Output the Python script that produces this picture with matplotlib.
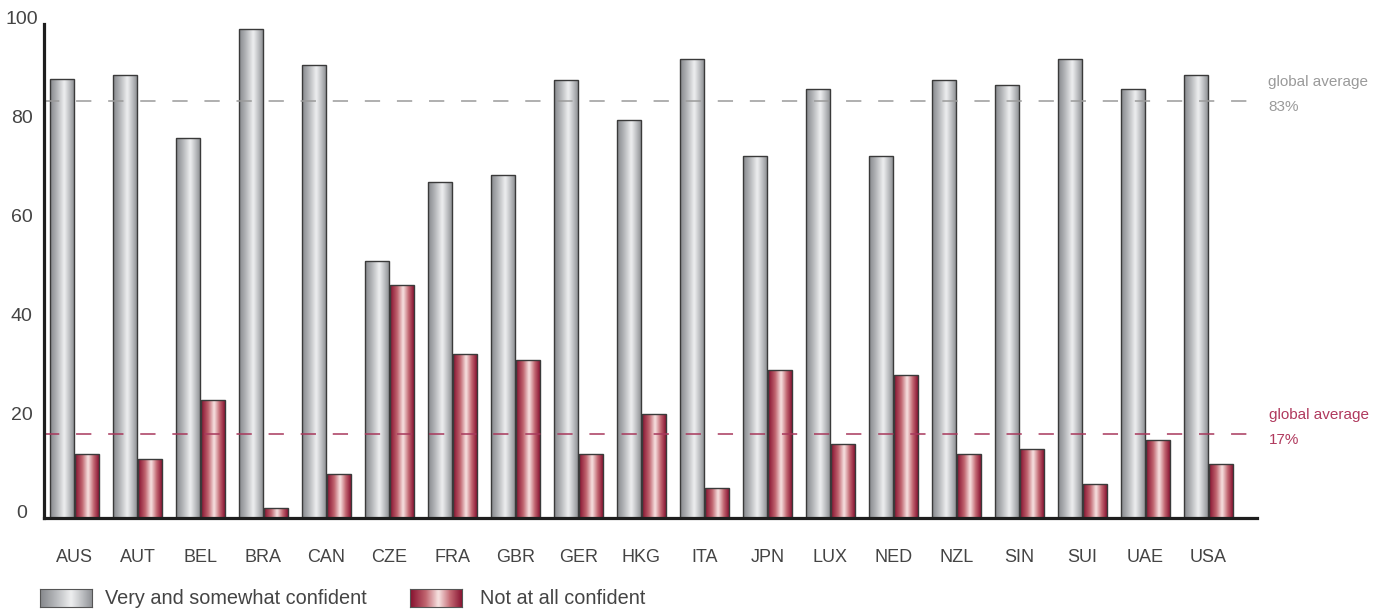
"""
Confidence by market: grouped bars with metallic gradient fill, plus global-average guides.
"""

import matplotlib
matplotlib.use("Agg")
import matplotlib.pyplot as plt
import numpy as np
from matplotlib.colors import LinearSegmentedColormap
from matplotlib.patches import Rectangle
from matplotlib.transforms import ScaledTranslation

countries = ["AUS", "AUT", "BEL", "BRA", "CAN", "CZE", "FRA", "GBR", "GER", "HKG",
             "ITA", "JPN", "LUX", "NED", "NZL", "SIN", "SUI", "UAE", "USA"]
confident = [88.8, 89.7, 77.0, 98.9, 91.7, 52.1, 68.0, 69.4, 88.7, 80.6,
             92.9, 73.3, 86.8, 73.3, 88.7, 87.7, 92.9, 86.8, 89.7]
not_confident = [13.0, 11.9, 23.9, 2.0, 8.9, 47.1, 33.1, 32.0, 13.0, 21.1,
                 6.1, 30.0, 15.0, 28.9, 13.0, 14.0, 6.9, 15.8, 10.9]
series_labels = ["Very and somewhat confident", "Not at all confident"]
avg_confident = 84.5
avg_not_confident = 17.0
avg_labels = ["83%", "17%"]
yticks = [0, 20, 40, 60, 80, 100]

W, H, DPI = 1378, 609, 100

GREY_CMAP = LinearSegmentedColormap.from_list(
	"grey_metal",
	[(0.0, "#86888c"), (0.3, "#b6b8bb"), (0.6, "#eeeff0"), (0.8, "#c2c4c7"), (1.0, "#929498")],
)
RED_CMAP = LinearSegmentedColormap.from_list(
	"red_metal",
	[(0.0, "#86112f"), (0.3, "#c0646f"), (0.55, "#f8e4e3"), (0.78, "#c46a74"), (1.0, "#8a1634")],
)
GREY_TEXT = "#9a9a9a"
RED_TEXT = "#b03a5e"
GRADIENT = np.linspace(0, 1, 64).reshape(1, -1)


def gradient_bar(ax, x0, width, height, cmap):
	"""Bar with a horizontal metallic gradient, clipped to its outline."""
	rect = Rectangle((x0, 0), width, height, facecolor="none", edgecolor="#3a3a3a",
	                 linewidth=1.0, zorder=3)
	ax.add_patch(rect)
	im = ax.imshow(GRADIENT, cmap=cmap, aspect="auto", extent=(x0, x0 + width, 0, height),
	               interpolation="bicubic", zorder=2)
	im.set_clip_path(rect)


def main() -> None:
	plt.rcParams["font.family"] = ["Liberation Sans", "DejaVu Sans"]
	fig = plt.figure(figsize=(W / DPI, H / DPI), dpi=DPI)
	ax = fig.add_axes([44 / W, (H - 518) / H, (1257 - 44) / W, (518 - 24) / H])

	x = np.arange(len(countries))
	bw = 0.375
	for i in x:
		gradient_bar(ax, i - 0.39, bw, confident[i], GREY_CMAP)
		gradient_bar(ax, i + 0.015, bw, not_confident[i], RED_CMAP)

	ax.set_xlim(-0.484, 18.77)
	ax.set_ylim(0, 100)

	# global average guides, drawn over the bars
	ax.axhline(avg_confident, color="#9a9a9a", lw=1.1, dashes=(10, 11), zorder=5)
	ax.axhline(avg_not_confident, color="#a8385c", lw=1.1, dashes=(10, 11), zorder=5)
	tr = ax.get_yaxis_transform()
	ax.text(1.009, avg_confident + 3.8, "global average", transform=tr, color=GREY_TEXT,
	        fontsize=11, va="center", clip_on=False)
	ax.text(1.009, avg_confident - 1.3, avg_labels[0], transform=tr, color=GREY_TEXT,
	        fontsize=11, va="center", clip_on=False)
	ax.text(1.010, avg_not_confident + 3.8, "global average", transform=tr, color=RED_TEXT,
	        fontsize=11, va="center", clip_on=False)
	ax.text(1.010, avg_not_confident - 1.3, avg_labels[1], transform=tr, color=RED_TEXT,
	        fontsize=11, va="center", clip_on=False)

	for side in ("top", "right"):
		ax.spines[side].set_visible(False)
	for side in ("left", "bottom"):
		ax.spines[side].set_linewidth(2.3)
		ax.spines[side].set_color("#1e1e1e")
		ax.spines[side].set_zorder(6)

	ax.set_xticks(x)
	ax.set_xticklabels(countries, fontsize=13, color="#444444")
	ax.set_yticks(yticks)
	ax.set_yticklabels([str(v) for v in yticks], fontsize=14, color="#444444", ha="center")
	ax.tick_params(axis="both", length=0)
	ax.tick_params(axis="x", pad=22)
	ax.tick_params(axis="y", pad=16)
	for lab in ax.get_yticklabels():
		lab.set_transform(lab.get_transform() + ScaledTranslation(0, 6 / DPI, fig.dpi_scale_trans))

	# legend: gradient swatches + labels along the bottom
	for (x0, tx), cmap, label in zip([(40, 105), (410, 480)], [GREY_CMAP, RED_CMAP], series_labels):
		sw = fig.add_axes([x0 / W, (H - 607) / H, 52 / W, 18 / H])
		sw.imshow(GRADIENT, cmap=cmap, aspect="auto", interpolation="bicubic")
		sw.set_xticks([])
		sw.set_yticks([])
		for sp in sw.spines.values():
			sp.set_color("#555555")
			sp.set_linewidth(0.8)
		fig.text(tx / W, (H - 598) / H, label, fontsize=14.3, color="#444444", va="center")

	fig.savefig("out.png", dpi=DPI)


if __name__ == "__main__":
	main()
